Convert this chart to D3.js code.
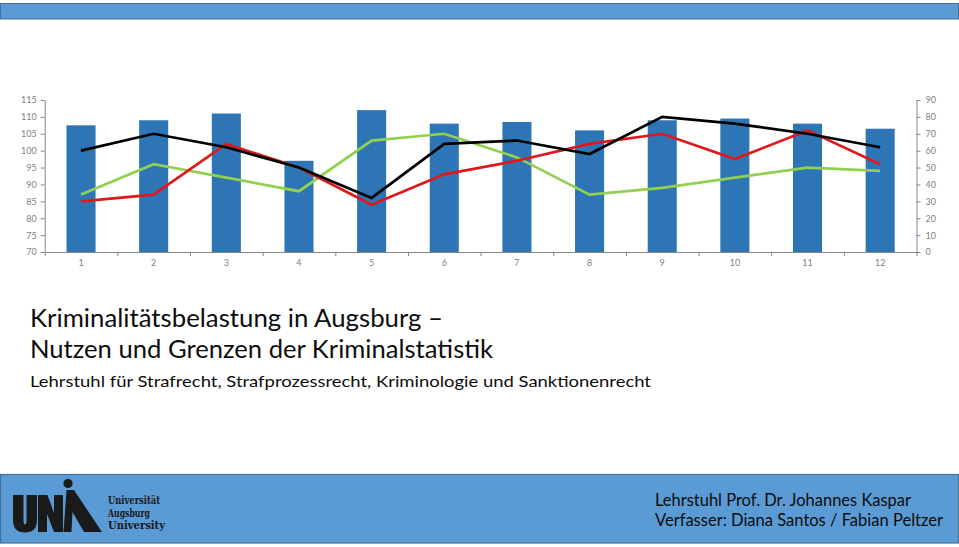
<!DOCTYPE html>
<html>
<head>
<meta charset="utf-8">
<script src="https://cdn.jsdelivr.net/npm/d3@7"></script>
<style>
  html, body { margin: 0; padding: 0; background: #ffffff; }
  svg { display: block; }
</style>
</head>
<body>
<svg id="chart" width="959" height="547"></svg>
<script>
// ---------- DATA ----------
const categories = ["1","2","3","4","5","6","7","8","9","10","11","12"];
const barValues   = [75, 78, 82, 54, 84, 76, 77, 72, 78, 79, 76, 73];      // right axis 0–90
const blackValues = [100, 105, 101, 95, 86, 102, 103, 99, 110, 108, 105, 101]; // left axis 70–115
const redValues   = [85, 87, 102, 95, 84, 93, 97, 102, 105, 97.5, 106, 96];
const greenValues = [87, 96, 92, 88, 103, 105, 98, 87, 89, 92, 95, 94];
const leftTicks  = [70, 75, 80, 85, 90, 95, 100, 105, 110, 115];
const rightTicks = [0, 10, 20, 30, 40, 50, 60, 70, 80, 90];
const titleLines = ["Kriminalitätsbelastung in Augsburg –", "Nutzen und Grenzen der Kriminalstatistik"];
const subtitle = "Lehrstuhl für Strafrecht, Strafprozessrecht, Kriminologie und Sanktionenrecht";
const footerLines = ["Lehrstuhl Prof. Dr. Johannes Kaspar", "Verfasser: Diana Santos / Fabian Peltzer"];
const logoLines = ["Universität", "Augsburg", "University"];

// ---------- LAYOUT ----------
const svg = d3.select("#chart");
const plotL = 44.7, plotR = 916.5, plotT = 100, plotB = 252;
const axisColor = "#868686", tickText = "#7f7f7f";
const fontUI = "Lato, 'Open Sans', sans-serif";

// top bar
svg.append("rect").attr("x", 0.5).attr("y", 3.5).attr("width", 958).attr("height", 15.5)
  .attr("fill", "#5b9bd5").attr("stroke", "#41719c").attr("stroke-width", 1);

// scales
const x = d3.scaleBand().domain(categories).range([plotL, plotR]).paddingInner(0.6).paddingOuter(0.3);
const xEdge = d3.scaleLinear().domain([0, categories.length]).range([plotL, plotR]);
const yL = d3.scaleLinear().domain([70, 115]).range([plotB, plotT]);
const yR = d3.scaleLinear().domain([0, 90]).range([plotB, plotT]);

const g = svg.append("g");

// bars
g.selectAll("rect.bar").data(barValues).join("rect")
  .attr("class", "bar")
  .attr("x", (d, i) => x(categories[i]))
  .attr("width", x.bandwidth())
  .attr("y", d => yR(d))
  .attr("height", d => yR(0) - yR(d))
  .attr("fill", "#2e75b6");

// axes
function styleAxis(sel) {
  sel.attr("fill", tickText);
  sel.selectAll("path, line").attr("stroke", axisColor).attr("stroke-width", 1);
  sel.selectAll("text").attr("fill", tickText).style("font-family", fontUI).style("font-size", "9px");
}
const ax = g.append("g").attr("transform", `translate(0,${plotB})`)
  .call(d3.axisBottom(xEdge).tickValues(d3.range(0, categories.length + 1)).tickSize(4).tickFormat("").tickSizeOuter(0));
styleAxis(ax);
const axLab = g.append("g").attr("transform", `translate(0,${plotB})`)
  .call(d3.axisBottom(x).tickSize(0).tickPadding(8));
axLab.select(".domain").remove();
styleAxis(axLab);

const ayL = g.append("g").attr("transform", `translate(${plotL},0)`)
  .call(d3.axisLeft(yL).tickValues(leftTicks).tickSize(4).tickSizeOuter(0).tickPadding(4));
styleAxis(ayL);
const ayR = g.append("g").attr("transform", `translate(${plotR},0)`)
  .call(d3.axisRight(yR).tickValues(rightTicks).tickSize(4).tickSizeOuter(0).tickPadding(5));
styleAxis(ayR);

// lines
const lineGen = d3.line().x((d, i) => x(categories[i]) + x.bandwidth() / 2).y(d => yL(d));
[[greenValues, "#92d050"], [redValues, "#e0181c"], [blackValues, "#000000"]].forEach(([vals, col]) => {
  g.append("path").datum(vals).attr("d", lineGen)
    .attr("fill", "none").attr("stroke", col).attr("stroke-width", 2.7)
    .attr("stroke-linejoin", "miter").attr("stroke-linecap", "butt");
});

// titles
const titleFont = "Lato, 'Open Sans', sans-serif";
const titleWidths = [413, 463];
titleLines.forEach((t, i) => {
  svg.append("text").attr("x", 30).attr("y", 327 + i * 30.5)
    .attr("textLength", titleWidths[i]).attr("lengthAdjust", "spacingAndGlyphs")
    .style("font-family", titleFont).style("font-size", "25px").attr("fill", "#0d0d0d").text(t);
});
svg.append("text").attr("x", 30).attr("y", 387.3)
  .attr("textLength", 621).attr("lengthAdjust", "spacingAndGlyphs")
  .style("font-family", titleFont).style("font-size", "16px").attr("fill", "#0d0d0d").text(subtitle);

// footer
svg.append("rect").attr("x", 0.5).attr("y", 474.5).attr("width", 958).attr("height", 68.5)
  .attr("fill", "#5b9bd5").attr("stroke", "#41719c").attr("stroke-width", 1.2);
const footerWidths = [256, 288];
footerLines.forEach((t, i) => {
  svg.append("text").attr("x", 655).attr("y", 505.7 + i * 20)
    .attr("textLength", footerWidths[i]).attr("lengthAdjust", "spacingAndGlyphs")
    .style("font-family", titleFont).style("font-size", "16.3px").attr("fill", "#0d0d0d").text(t);
});

// logo
const logo = svg.append("g").attr("fill", "#1a1a1a");
logo.append("path").attr("d", "M13,495 H23.5 V520 Q23.5,524.5 25,524.5 Q26.5,524.5 26.5,520 V495 H37 V520 Q37,532.5 25,532.5 Q13,532.5 13,520 Z");
logo.append("path").attr("d", "M38,532 V495 H47.5 L54,513 V495 H63 V532 H54 L47,514 V532 Z");
logo.append("path").attr("d", "M63.5,532 L66.5,490 L74,490 L102,532 Z");
logo.append("path").attr("d", "M71.5,532 L72.5,512 L84,532 Z").attr("fill", "#5b9bd5");
logo.append("circle").attr("cx", 68).attr("cy", 483.5).attr("r", 4.6);
const logoWidths = [52, 42, 57];
logoLines.forEach((t, i) => {
  svg.append("text").attr("x", 108).attr("y", 504 + i * 12.5)
    .attr("textLength", logoWidths[i]).attr("lengthAdjust", "spacingAndGlyphs")
    .style("font-family", "'DejaVu Serif', 'Liberation Serif', serif").style("font-weight", "bold")
    .style("font-size", "10.5px").attr("fill", "#1a1a1a").text(t);
});
</script>
</body>
</html>
